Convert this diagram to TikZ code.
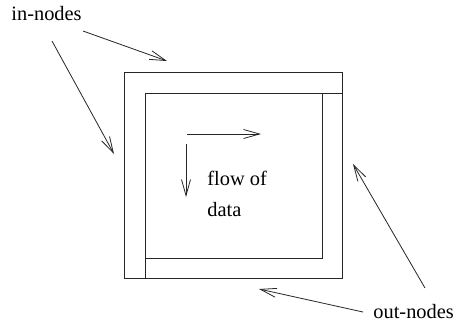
\documentclass[tikz,border=0pt]{standalone}
\usepackage{fontspec}
\setmainfont{Liberation Serif}
\usetikzlibrary{arrows.meta}
\begin{document}
\begin{tikzpicture}[x=0.5pt,y=-0.5pt,
  frame/.style={draw=black!85,line width=0.5pt},
  pointer/.style={draw=black!85,line width=0.4pt,-{Straight Barb[length=8pt,width=4.5pt]}},
  lbl/.style={anchor=base west,inner sep=0pt,font=\fontsize{10.2}{12}\selectfont}]
\useasboundingbox (0,0) rectangle (454,329);
% frames
\draw[frame] (124,72) rectangle (342,278);
\draw[frame] (342,93) -- (145,93) -- (145,278);
\draw[frame] (145,258) -- (322,258) -- (322,93);
% flow arrows
\coordinate (h1) at (187,134); \coordinate (h2) at (261,134);
\coordinate (v1) at (186,144); \coordinate (v2) at (186,197);
\draw[pointer] (h1) -- (h2);
\draw[pointer] (v1) -- (v2);
% labels
\node[lbl] (flow) at (207,185.5) {flow of};
\node[lbl] (data) at (207,216.5) {data};
\node[lbl] (in) at (11,20.5) {in-nodes};
\node[lbl] (out) at (373,318) {out-nodes};
% pointers
\coordinate (a1s) at (83,31); \coordinate (a1e) at (167,61);
\coordinate (a2s) at (52,41); \coordinate (a2e) at (114,154);
\coordinate (b1s) at (425,288); \coordinate (b1e) at (353,164);
\coordinate (b2s) at (363,312); \coordinate (b2e) at (259,289);
\draw[pointer] (a1s) -- (a1e);
\draw[pointer] (a2s) -- (a2e);
\draw[pointer] (b1s) -- (b1e);
\draw[pointer] (b2s) -- (b2e);
\end{tikzpicture}
\end{document}
